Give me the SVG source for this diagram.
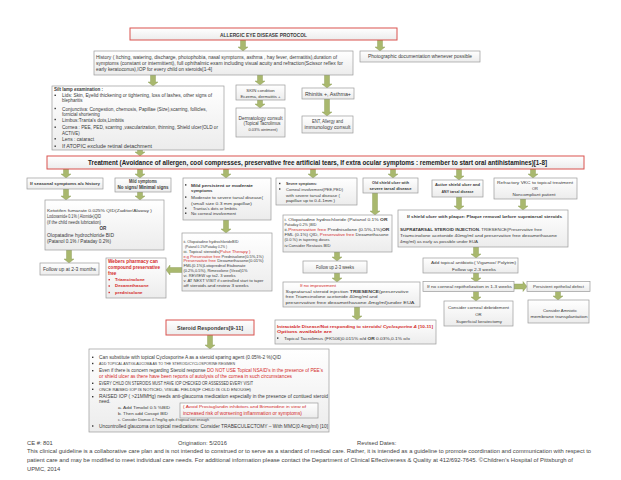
<svg xmlns="http://www.w3.org/2000/svg" width="621" height="480" viewBox="0 0 621 480">
<defs>
<linearGradient id="g" x1="0" y1="0" x2="0" y2="1"><stop offset="0" stop-color="#ffffff"/><stop offset="1" stop-color="#ececec"/></linearGradient>
<rect id="bu" width="1.4" height="1.4" fill="#333"/>
<rect id="bur" width="1.4" height="1.4" fill="#d42a2a"/>
</defs>
<style>
.bx{fill:url(#g);stroke:#9a9a9a;stroke-width:0.7}
.rb{fill:url(#g);stroke:#d9534f;stroke-width:1}
.t{font-family:"Liberation Sans",Arial,sans-serif;font-size:4.5px;fill:#3a3a3a}
.c{text-anchor:middle}
.b{font-weight:bold}
.r{fill:#d42a2a}
.ar path{fill:#a9b86e;stroke:#86984f;stroke-width:0.4}
.f{font-family:"Liberation Sans",Arial,sans-serif;font-size:5.4px;fill:#444}
</style>
<rect width="621" height="480" fill="#ffffff"/>

<g id="connectors" class="ar">
<path d="M240.5,40H245.5V47H248L243,51L238,47H240.5Z"/>
<path d="M377.5,40H382.5V47H385L380,51L375,47H377.5Z"/>
<path d="M150.5,75H155.5V82H158L153,86L148,82H150.5Z"/>
<path d="M257.5,75H262.5V81H265L260,85L255,81H257.5Z"/>
<path d="M324.5,75H329.5V84H332L327,88L322,84H324.5Z"/>
<path d="M257.5,100H262.5V104H265L260,108L255,104H257.5Z"/>
<path d="M324.5,99H329.5V112H332L327,116L322,112H324.5Z"/>
<path d="M137.5,150H142.5V152H145L140,156L135,152H137.5Z"/>
<path d="M63.5,169H68.5V174H71L66,178L61,174H63.5Z"/>
<path d="M137.5,169H142.5V174H145L140,178L135,174H137.5Z"/>
<path d="M223.5,169H228.5V174H231L226,178L221,174H223.5Z"/>
<path d="M310.5,169H315.5V174H318L313,178L308,174H310.5Z"/>
<path d="M390.5,169H395.5V174H398L393,178L388,174H390.5Z"/>
<path d="M456.5,169H461.5V176H464L459,180L454,176H456.5Z"/>
<path d="M530.5,169H535.5V174H538L533,178L528,174H530.5Z"/>
<path d="M63.5,189H68.5V196H71L66,200L61,196H63.5Z"/>
<path d="M137.5,192H142.5V196H145L140,200L135,196H137.5Z"/>
<path d="M66.5,250H71.5V259H74L69,263L64,259H66.5Z"/>
<path d="M223.5,220H228.5V229H231L226,233L221,229H223.5Z"/>
<path d="M182,267.5V272.5H170V275L166,270L170,265V267.5Z"/>
<path d="M372.5,193H377.5V211H380L375,215L370,211H372.5Z"/>
<path d="M334.5,252H339.5V257H342L337,261L332,257H334.5Z"/>
<path d="M334.5,273H339.5V278H342L337,282L332,278H334.5Z"/>
<path d="M354.5,307H359.5V316H362L357,320L352,316H354.5Z"/>
<path d="M456.5,197H461.5V206H464L459,210L454,206H456.5Z"/>
<path d="M520.5,199H525.5V206H528L523,210L518,206H520.5Z"/>
<path d="M473.5,247H478.5V254H481L476,258L471,254H473.5Z"/>
<path d="M473.5,273H478.5V278H481L476,282L471,278H473.5Z"/>
<path d="M514,284H523V281.5L527,286.5L523,291.5V289H514Z"/>
<path d="M473.5,291H478.5V297H481L476,301L471,297H473.5Z"/>
<path d="M555.5,291H560.5V296H563L558,300L553,296H555.5Z"/>
<path d="M207.5,335H212.5V345H215L210,349L205,345H207.5Z"/>
</g>

<g id="title">
<rect class="rb" x="130" y="28" width="267" height="12"/>
<text class="t c b" x="263.5" y="36.5" style="font-size:5.5px" textLength="87" lengthAdjust="spacingAndGlyphs">ALLERGIC EYE DISEASE PROTOCOL</text>
</g>

<g id="photo">
<rect class="bx" x="360" y="51" width="120" height="11"/>
<text class="t c" x="420" y="58.3" textLength="104" lengthAdjust="spacingAndGlyphs">Photographic documentation whenever possible</text>
</g>

<g id="history">
<rect class="bx" x="94" y="51" width="259" height="24"/>
<text class="t" x="96" y="58.5" textLength="241" lengthAdjust="spacingAndGlyphs">History ( Itching, watering, discharge, photophobia, nasal symptoms, asthma , hay fever, dermatitis),duration of</text>
<text class="t" x="96" y="64.5" textLength="247" lengthAdjust="spacingAndGlyphs">symptoms (constant or intermittent), full ophthalmic exam including visual acuity and refraction(Scissor reflex for</text>
<text class="t" x="96" y="70.5" textLength="116" lengthAdjust="spacingAndGlyphs">early keratoconus),IOP for every child on steroids[1-4]</text>
</g>

<g id="slitlamp">
<rect class="bx" x="52" y="86" width="172" height="64"/>
<text class="t b" x="54" y="91.3" textLength="49" lengthAdjust="spacingAndGlyphs">Silt lamp examination :</text>
<use href="#bu" x="54.5" y="94.6"/>
<text class="t" x="62" y="97.3" textLength="150" lengthAdjust="spacingAndGlyphs">Lids: Skin, Eyelid thickening or tightening, loss of lashes, other signs of</text>
<text class="t" x="62" y="102.3">blepharitis</text>
<use href="#bu" x="54.5" y="107.8"/>
<text class="t" x="62" y="110.5" textLength="145" lengthAdjust="spacingAndGlyphs">Conjunctiva: Congestion, chemosis, Papillae (Size),scarring, follicles,</text>
<text class="t" x="62" y="115.5">fornicial shortening</text>
<use href="#bu" x="54.5" y="118.8"/>
<text class="t" x="62" y="121.5" textLength="62" lengthAdjust="spacingAndGlyphs">Limbus:Tranta's dots,Limbitis</text>
<use href="#bu" x="54.5" y="126.5"/>
<text class="t" x="62" y="129.2" textLength="156" lengthAdjust="spacingAndGlyphs">Cornea : PEE, PED, scarring ,vascularization, thinning, Shield ulcer(OLD or</text>
<text class="t" x="62" y="134.8">ACTIVE)</text>
<use href="#bu" x="54.5" y="138.1"/>
<text class="t" x="62" y="140.8" textLength="32" lengthAdjust="spacingAndGlyphs">Lens : cataract</text>
<use href="#bu" x="54.5" y="145.5"/>
<text class="t" x="62" y="148.2" textLength="90" lengthAdjust="spacingAndGlyphs">If ATOPIC exclude retinal detachment</text>
</g>

<g id="skin">
<rect class="bx" x="236" y="85" width="49" height="15"/>
<text class="t c" x="260.5" y="91.5" style="font-size:4.3px">SKIN condition</text>
<text class="t c" x="260.5" y="97.5" style="font-size:4.3px" textLength="40" lengthAdjust="spacingAndGlyphs">Eczema, dermatitis +</text>
</g>

<g id="derm">
<rect class="bx" x="236" y="108" width="49" height="29"/>
<text class="t c" x="260.5" y="120" textLength="44" lengthAdjust="spacingAndGlyphs">Dermatology consult</text>
<text class="t c" x="262" y="125.2" textLength="37" lengthAdjust="spacingAndGlyphs">(Topical Tacrolimus</text>
<text class="t c" x="263" y="130.5" style="font-size:4px">0.03% ointment)</text>
</g>

<g id="rhinitis">
<rect class="bx" x="302" y="88" width="52" height="11"/>
<text class="t c" x="328" y="95.5" textLength="46" lengthAdjust="spacingAndGlyphs">Rhinitis +, Asthma+</text>
</g>

<g id="ent">
<rect class="bx" x="302" y="116" width="51" height="17"/>
<text class="t c" x="327.5" y="122.5" textLength="31" lengthAdjust="spacingAndGlyphs">ENT, Allergy and</text>
<text class="t c" x="327.5" y="129" textLength="46" lengthAdjust="spacingAndGlyphs">immunology consult</text>
</g>

<g id="treatment">
<rect class="rb" x="47" y="156" width="537" height="13"/>
<text class="t c b" x="317.5" y="165.2" style="font-size:7px;fill:#222" textLength="459" lengthAdjust="spacingAndGlyphs">Treatment (Avoidance of allergen, cool compresses, preservative free artificial tears, If extra ocular symptoms : remember to start oral antihistamines)[1-8]</text>
</g>

<g id="seasonal">
<rect class="bx" x="27" y="178" width="76" height="11"/>
<text class="t c b" x="65" y="185.2" style="font-size:4.3px" textLength="70" lengthAdjust="spacingAndGlyphs">If seasonal symptoms a/c history</text>
</g>

<g id="mild">
<rect class="bx" x="115" y="178" width="56" height="14"/>
<text class="t c b" x="143" y="183" textLength="28" lengthAdjust="spacingAndGlyphs">Mild symptoms</text>
<text class="t c b" x="143" y="189.3" textLength="51" lengthAdjust="spacingAndGlyphs">No signs/ Minimal signs</text>
</g>

<g id="mildpersistent">
<rect class="bx" x="183" y="178" width="88" height="42"/>
<use href="#bu" x="185" y="184.2"/>
<text class="t b" x="191" y="186.5" style="font-size:4.3px" textLength="62" lengthAdjust="spacingAndGlyphs">Mild persistent or moderate</text>
<text class="t b" x="191" y="192.2" style="font-size:4.3px">symptoms</text>
<use href="#bu" x="185" y="196.4"/>
<text class="t" x="191" y="198.8" style="font-size:4.3px" textLength="72" lengthAdjust="spacingAndGlyphs">Moderate to severe tarsal disease(</text>
<text class="t" x="191" y="204.8" style="font-size:4.3px" textLength="61" lengthAdjust="spacingAndGlyphs">(small size 0.3 mm papillae)</text>
<use href="#bu" x="185" y="207.5"/>
<text class="t" x="193" y="209.8" style="font-size:4.3px" textLength="44" lengthAdjust="spacingAndGlyphs">Trantas's dots or limbitis</text>
<use href="#bu" x="185" y="212.5"/>
<text class="t" x="191" y="214.8" style="font-size:4.3px" textLength="45" lengthAdjust="spacingAndGlyphs">No corneal involvement</text>
</g>

<g id="severe">
<rect class="bx" x="276" y="178" width="81" height="27"/>
<use href="#bu" x="279" y="182.8"/>
<text class="t b" x="286" y="185" style="font-size:4.2px" textLength="31" lengthAdjust="spacingAndGlyphs">Severe symptoms:</text>
<use href="#bu" x="279" y="188.3"/>
<text class="t" x="286" y="190.5" style="font-size:4.2px" textLength="57" lengthAdjust="spacingAndGlyphs">Corneal involvement(PEE,PED)</text>
<text class="t" x="286" y="196.5" style="font-size:4.2px" textLength="54" lengthAdjust="spacingAndGlyphs">with severe tarsal disease (</text>
<text class="t" x="286" y="202.2" style="font-size:4.2px" textLength="49" lengthAdjust="spacingAndGlyphs">papillae up to 0.4-1mm )</text>
</g>

<g id="oldshield">
<rect class="bx" x="363" y="178" width="55" height="15"/>
<text class="t c b" x="390.5" y="184.2" style="font-size:4.3px" textLength="37" lengthAdjust="spacingAndGlyphs">Old shield ulcer with</text>
<text class="t c b" x="390.5" y="190.2" style="font-size:4.3px" textLength="42" lengthAdjust="spacingAndGlyphs">severe tarsal disease</text>
</g>

<g id="active">
<rect class="bx" x="432" y="180" width="51" height="17"/>
<text class="t c b" x="457.5" y="186.3" style="font-size:4.3px" textLength="45" lengthAdjust="spacingAndGlyphs">Active shield ulcer and</text>
<text class="t c b" x="457.5" y="192.5" style="font-size:4.3px" textLength="32" lengthAdjust="spacingAndGlyphs">ANY tarsal disease</text>
</g>

<g id="refractory">
<rect class="bx" x="494" y="178" width="83" height="21"/>
<text class="t c" x="535" y="184" style="font-size:4px" textLength="76" lengthAdjust="spacingAndGlyphs">Refractory VKC to topical treatment</text>
<text class="t c" x="535" y="189.5" style="font-size:4px">OR</text>
<text class="t c" x="534" y="195.5" style="font-size:4px" textLength="43" lengthAdjust="spacingAndGlyphs">Noncompliant patient</text>
</g>

<g id="ketotifen">
<rect class="bx" x="45" y="200" width="119" height="50"/>
<text class="t" x="47" y="211.5" style="font-size:4.2px" textLength="105" lengthAdjust="spacingAndGlyphs">Ketotifen fumarate 0.025% QID(Zaditor/Alaway )</text>
<text class="t" x="47" y="218" style="font-size:4.8px" textLength="54" lengthAdjust="spacingAndGlyphs">Lodoxamide 0.1% ( Alomide)QID</text>
<text class="t" x="47" y="224" style="font-size:4.8px" textLength="54" lengthAdjust="spacingAndGlyphs">(if the child needs lubrication)</text>
<text class="t c b" x="103" y="229.8" style="font-size:4.6px">OR</text>
<text class="t" x="47" y="237" style="font-size:4.8px" textLength="67" lengthAdjust="spacingAndGlyphs">Olopatadine hydrochloride BID</text>
<text class="t" x="47" y="243" style="font-size:4.8px" textLength="64" lengthAdjust="spacingAndGlyphs">(Patanol 0.1% / Pataday 0.2%)</text>
</g>

<g id="followup1">
<rect class="bx" x="40" y="263" width="59" height="12"/>
<text class="t c" x="69.5" y="270.5" textLength="53" lengthAdjust="spacingAndGlyphs">Follow up at 2-3 months</text>
</g>

<g id="steroids">
<rect class="bx" x="182" y="233" width="90" height="58"/>
<text class="t" x="183.5" y="243" style="font-size:4.3px" textLength="55" lengthAdjust="spacingAndGlyphs">ii. Olopatadine hydrochlorideBID</text>
<text class="t" x="185" y="248" style="font-size:4.3px" textLength="42" lengthAdjust="spacingAndGlyphs">(Patanol 0.1%/Pataday 0.2% )</text>
<text class="t" x="183.5" y="253" style="font-size:4.3px" textLength="67" lengthAdjust="spacingAndGlyphs">iii. Topical steroids(<tspan class="r">Pulse Therapy )</tspan></text>
<text class="t" x="183.5" y="257.6" style="font-size:4.3px" textLength="80" lengthAdjust="spacingAndGlyphs"><tspan class="r">e.g Preservative free</tspan>  Prednisolone(0.5%,1%)</text>
<text class="t" x="183.5" y="262.4" style="font-size:4.3px" textLength="80" lengthAdjust="spacingAndGlyphs"><tspan class="r">Preservative free</tspan> Dexamethasone(0.01%)</text>
<text class="t" x="183.5" y="267.4" style="font-size:4.3px" textLength="62" lengthAdjust="spacingAndGlyphs">FML(0.1%)Lotoprednol Etabonate</text>
<text class="t" x="183.5" y="272" style="font-size:4.3px" textLength="64" lengthAdjust="spacingAndGlyphs">(0.2%,0.5%), Rimexolone (Vexol)1%</text>
<text class="t" x="183.5" y="276.7" style="font-size:4.3px" textLength="52" lengthAdjust="spacingAndGlyphs">vi. REVIEW up to2- 3 weeks</text>
<text class="t" x="183.5" y="281.8" style="font-size:4.3px" textLength="80" lengthAdjust="spacingAndGlyphs">v. AT NEXT VISIT if controlled start to taper</text>
<text class="t" x="183.5" y="286.6" style="font-size:4.3px" textLength="65" lengthAdjust="spacingAndGlyphs">off steroids and review 3 weeks</text>
</g>

<g id="webers">
<rect class="bx" x="106" y="258" width="60" height="40"/>
<text class="t b r" x="108" y="263.2" style="font-size:4.6px" textLength="50" lengthAdjust="spacingAndGlyphs">Webers pharmacy can</text>
<text class="t b r" x="108" y="269.2" style="font-size:4.6px" textLength="52" lengthAdjust="spacingAndGlyphs">compound preservative</text>
<text class="t b r" x="108" y="275" style="font-size:4.6px">free</text>
<use href="#bur" x="108.5" y="279"/>
<text class="t b r" x="115" y="281" style="font-size:4.4px">Triamcinolone</text>
<use href="#bur" x="108.5" y="285.3"/>
<text class="t b r" x="115" y="287.3" style="font-size:4.4px">Dexamethasone</text>
<use href="#bur" x="108.5" y="291.8"/>
<text class="t b r" x="115" y="293.8" style="font-size:4.4px">prednisolone</text>
</g>

<g id="olopatadine">
<rect class="bx" x="283" y="215" width="109" height="37"/>
<text class="t" x="284.5" y="220.5" style="font-size:4.3px" textLength="103" lengthAdjust="spacingAndGlyphs">i. Olopatadine hydrochloride (Patanol 0.1% <tspan class="b">OR</tspan></text>
<text class="t" x="284.5" y="225.5" style="font-size:4.3px" textLength="32" lengthAdjust="spacingAndGlyphs">Pataday 0.2% )BID</text>
<text class="t" x="284.5" y="230.5" style="font-size:4.3px" textLength="105" lengthAdjust="spacingAndGlyphs">ii.<tspan class="r">Preservative free</tspan> Prednisolone (0.5%,1%)<tspan class="b">OR</tspan></text>
<text class="t" x="284.5" y="235.5" style="font-size:4.3px" textLength="104" lengthAdjust="spacingAndGlyphs">FML (0.1%) QID, <tspan class="r">Preservative free</tspan> Dexamethasone</text>
<text class="t" x="284.5" y="241" style="font-size:4.3px" textLength="45" lengthAdjust="spacingAndGlyphs">(0.0.%) in tapering doses</text>
<text class="t" x="284.5" y="246.5" style="font-size:4.3px" textLength="46" lengthAdjust="spacingAndGlyphs">iv.Consider Restasis BID</text>
</g>

<g id="followup2">
<rect class="bx" x="303" y="261" width="64" height="12"/>
<text class="t c" x="335" y="269" textLength="38" lengthAdjust="spacingAndGlyphs">Follow up 2-3 weeks</text>
</g>

<g id="noimprovement">
<rect class="bx" x="283" y="282" width="137" height="25"/>
<text class="t c r" x="318" y="287.2" style="font-size:4.4px" textLength="36" lengthAdjust="spacingAndGlyphs">If no improvement</text>
<text class="t" x="285.5" y="292.6" style="font-size:4.3px" textLength="123" lengthAdjust="spacingAndGlyphs">Supratarsal steroid injection <tspan class="b">TRIESENCE</tspan>(preservative</text>
<text class="t" x="285.5" y="298.1" style="font-size:4.3px" textLength="92" lengthAdjust="spacingAndGlyphs">free Triamcinolone acetonide 40mg/ml and</text>
<text class="t" x="285.5" y="303.6" style="font-size:4.3px" textLength="129" lengthAdjust="spacingAndGlyphs">preservative free dexamethasone 4mg/ml)under EUA</text>
</g>

<g id="intractable">
<rect class="bx" x="275" y="320" width="161" height="24"/>
<text class="t b r" x="277" y="327.5" style="font-size:4.3px" textLength="156" lengthAdjust="spacingAndGlyphs">Intractable Disease/Not responding to steroids/ <tspan font-style="italic">Cyclosporine A</tspan> [10-11]</text>
<text class="t b r" x="277" y="333" style="font-size:4.3px" textLength="55" lengthAdjust="spacingAndGlyphs">Options available are</text>
<use href="#bu" x="277" y="337.4"/>
<text class="t" x="284" y="339.5" style="font-size:4.3px" textLength="126" lengthAdjust="spacingAndGlyphs">Topical Tacrolimus (FK506)0.015% o/d <tspan class="b">OR</tspan> 0.03%,0.1% o/o</text>
</g>

<g id="plaque">
<rect class="bx" x="398" y="210" width="170" height="37"/>
<text class="t b" x="407" y="218.2" style="font-size:4.4px" textLength="155" lengthAdjust="spacingAndGlyphs">If shield ulcer with plaque: Plaque removal before supratarsal steroids</text>
<text class="t" x="400" y="230.5" style="font-size:4.3px" textLength="142" lengthAdjust="spacingAndGlyphs"><tspan class="b">SUPRATARSAL STEROID INJECTION.</tspan> TRIESENCE(Preservative free</text>
<text class="t" x="400" y="237.2" style="font-size:4.3px" textLength="157" lengthAdjust="spacingAndGlyphs">Triamcinolone acetonide 40mg/ml and preservative free dexamethasone</text>
<text class="t" x="400" y="243.2" style="font-size:4.3px" textLength="78" lengthAdjust="spacingAndGlyphs">4mg/ml) as early as possible under EUA</text>
</g>

<g id="antibiotic">
<rect class="bx" x="423" y="258" width="95" height="15"/>
<text class="t c" x="473.5" y="263.8" style="font-size:4.3px" textLength="85" lengthAdjust="spacingAndGlyphs">Add topical antibiotic( Vigamox/ Polytrim)</text>
<text class="t c" x="474" y="270.5" style="font-size:4.3px" textLength="44" lengthAdjust="spacingAndGlyphs">Follow up 2-3 weeks</text>
</g>

<g id="nocorneal">
<rect class="bx" x="423" y="281.5" width="91" height="10"/>
<text class="t c" x="469.5" y="288" style="font-size:4.3px" textLength="85" lengthAdjust="spacingAndGlyphs">If no corneal repithelization in 1-3 weeks</text>
</g>

<g id="persistent">
<rect class="bx" x="527" y="281.5" width="63" height="10"/>
<text class="t c" x="558.5" y="288" style="font-size:4.3px" textLength="51" lengthAdjust="spacingAndGlyphs">Persistent epithelial defect</text>
</g>

<g id="debridement">
<rect class="bx" x="444" y="301" width="69" height="25"/>
<text class="t c" x="478.5" y="308.8" style="font-size:4.2px" textLength="61" lengthAdjust="spacingAndGlyphs">Consider corneal debridement</text>
<text class="t c" x="478.5" y="316.3" style="font-size:4.2px">OR</text>
<text class="t c" x="479" y="322.5" style="font-size:4.2px" textLength="46" lengthAdjust="spacingAndGlyphs">Superficial keratectomy</text>
</g>

<g id="amniotic">
<rect class="bx" x="528" y="300" width="61" height="23"/>
<text class="t c" x="560" y="311.5" style="font-size:4.2px" textLength="34" lengthAdjust="spacingAndGlyphs">Consider Amniotic</text>
<text class="t c" x="559" y="317.5" style="font-size:4.2px" textLength="57" lengthAdjust="spacingAndGlyphs">membrane transplantation</text>
</g>

<g id="responders">
<rect class="rb" x="166" y="320" width="88" height="15"/>
<text class="t c b" x="210" y="329.5" style="font-size:5.3px" textLength="66" lengthAdjust="spacingAndGlyphs">Steroid Responders[9-11]</text>
</g>

<g id="responders-detail">
<rect class="bx" x="89" y="349" width="240" height="83"/>
<use href="#bu" x="92" y="356.6"/>
<text class="t" x="99" y="358.8" textLength="182" lengthAdjust="spacingAndGlyphs">Can substitute with  topical Cyclosporine A as a steroid sparing agent (0.05%-2 %)QID</text>
<use href="#bu" x="92" y="362.8"/>
<text class="t" x="99" y="364.6" style="font-size:3.4px" textLength="136" lengthAdjust="spacingAndGlyphs">ADD TOPICAL ANTIGLAUCOMA AS TO THE STEROID/CYCLOSPORINE REGIMEN</text>
<use href="#bu" x="92" y="370"/>
<text class="t" x="99" y="372.2" textLength="224" lengthAdjust="spacingAndGlyphs">Even if there is concern regarding Steroid response <tspan class="r">DO NOT USE Topical NSAID's in the presence of PEE's</tspan></text>
<text class="t r" x="99" y="378.2" textLength="193" lengthAdjust="spacingAndGlyphs">or shield ulcer as there have been reports of autolysis of the cornea in such circumstances</text>
<use href="#bu" x="92" y="382.6"/>
<text class="t" x="99" y="384.8" textLength="154" lengthAdjust="spacingAndGlyphs">EVERY CHILD ON STEROIDS MUST HAVE IOP CHECKED OR ASSESSED EVERY VISIT</text>
<use href="#bu" x="92" y="388.6"/>
<text class="t" x="99" y="390.8" style="font-size:4.1px" textLength="152" lengthAdjust="spacingAndGlyphs">ONCE RAISED IOP IS NOTICED,  VISUAL FIELDS(IF CHILD IS OLD ENOUGH)</text>
<use href="#bu" x="92" y="396"/>
<text class="t" x="99" y="398.2" textLength="229" lengthAdjust="spacingAndGlyphs">RAISED IOP ( &gt;21MMHg) needs anti-glaucoma medication especially in the presence of contiued steroid</text>
<text class="t" x="99" y="403.2">need.</text>
<text class="t" x="118" y="409" style="font-size:4.2px" textLength="52" lengthAdjust="spacingAndGlyphs">a. Add Timolol 0.5 %BID</text>
<text class="t" x="118" y="414.5" style="font-size:3.8px" textLength="50" lengthAdjust="spacingAndGlyphs">b. Then add Cosopt BID</text>
<text class="t" x="118" y="420.5" style="font-size:4px" textLength="91" lengthAdjust="spacingAndGlyphs">c. Consider Diamox 4-7mg/kg qds if topical not enough</text>
<use href="#bu" x="92" y="425.3"/>
<text class="t" x="99" y="427.5" textLength="229" lengthAdjust="spacingAndGlyphs">Uncontrolled glaucoma on topical medications: Consider TRABECULECTOMY – With MMC(0.4mg/ml) [10]</text>
</g>

<g id="avoid-note">
<rect class="bx" x="180" y="403" width="138" height="15"/>
<text class="t r" x="183" y="408" style="font-size:4.1px" textLength="123" lengthAdjust="spacingAndGlyphs">( Avoid Prostaglandin inhibitors and Brimonidine in view of</text>
<text class="t r" x="183" y="414.8" style="font-size:4.6px" textLength="119" lengthAdjust="spacingAndGlyphs">increased risk of worsening inflammation or symptoms)</text>
</g>

<g id="footer">
<text class="f" x="27" y="445.3" style="font-size:5.8px">CE #: 801</text>
<text class="f" x="178" y="445.3" style="font-size:5.8px">Origination:  5/2016</text>
<text class="f" x="357" y="445.3" style="font-size:5.8px">Revised Dates:</text>
<text class="f" x="27" y="453.3" textLength="564" lengthAdjust="spacingAndGlyphs">This clinical guideline is a collaborative care plan and is not intended to construed or to serve as a standard of medical care.  Rather, it is intended as a guideline to promote coordination and communication with respect to</text>
<text class="f" x="27" y="462.3" textLength="546" lengthAdjust="spacingAndGlyphs">patient care and may be modified to meet individual care needs. For additional information please contact the Department of Clinical Effectiveness &amp; Quality at 412/692-7645.    ©Children’s Hospital of Pittsburgh of</text>
<text class="f" x="27" y="470.8" style="font-size:5.8px">UPMC, 2014</text>
</g>
</svg>
